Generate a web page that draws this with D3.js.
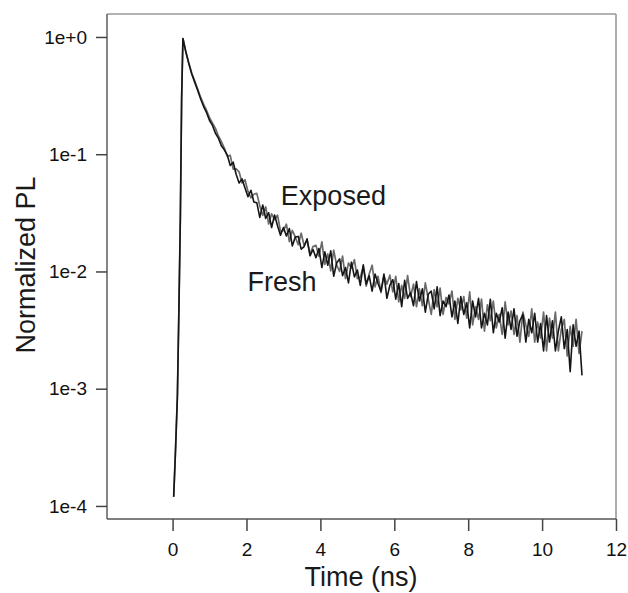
<!DOCTYPE html>
<html>
<head>
<meta charset="utf-8">
<script src="https://cdn.jsdelivr.net/npm/d3@7"></script>
<style>
  body { margin: 0; background: #fff; }
  text { font-family: "Liberation Sans", Arial, sans-serif; fill: #1a1a1a; }
  .axis path { display: none; }
  .axis line { stroke: #444; stroke-width: 1.5; }
</style>
</head>
<body>
<div id="decay_plot"></div>
<script>

// Rise of the pulse (ns, normalized PL)
var riseTime = [0.03, 0.08, 0.13, 0.17, 0.21, 0.245];
var riseFresh = [0.00012, 0.00030, 0.00085, 0.0045, 0.028, 0.30];
var riseExposed = [0.00012, 0.00031, 0.00088, 0.0047, 0.029, 0.31];

// Decay, sampled every 0.08 ns from the peak
var decayStart = 0.28;
var decayStep = 0.08;

var decayFresh = [
  0.97,0.74,0.59,0.48,0.41,0.35,0.296,0.255,0.226,0.194,
  0.176,0.151,0.137,0.118,0.109,0.0984,0.0802,0.0855,0.0674,0.0569,
  0.0616,0.0516,0.0434,0.0493,0.0391,0.0385,0.0289,0.0369,0.0283,0.0317,
  0.0237,0.0303,0.0245,0.0204,0.0237,0.0201,0.0232,0.0165,0.0197,0.0199,
  0.0155,0.0163,0.0190,0.0136,0.0154,0.0131,0.0157,0.0108,0.0147,0.0113,
  0.0150,0.0091,0.0118,0.0128,0.0092,0.0108,0.0080,0.0120,0.0090,0.0103,
  0.0076,0.0114,0.0078,0.0092,0.0068,0.0095,0.0079,0.0068,0.0095,0.0059,
  0.0076,0.0085,0.0058,0.0079,0.0050,0.0084,0.0059,0.0066,0.0051,0.0082,
  0.0056,0.0071,0.0045,0.0064,0.0068,0.0048,0.0074,0.0042,0.0056,0.0050,
  0.0063,0.0041,0.0056,0.0036,0.0061,0.0043,0.0054,0.0033,0.0056,0.0041,
  0.0059,0.0033,0.0044,0.0035,0.0058,0.0030,0.0044,0.0037,0.0049,0.0027,
  0.0045,0.0032,0.0048,0.0028,0.0038,0.0043,0.0025,0.0039,0.0030,0.0044,
  0.0025,0.0036,0.0021,0.0042,0.0025,0.0038,0.0021,0.0031,0.0041,0.0022,
  0.0032,0.0014,0.0035,0.0023,0.0031,0.0013
];

var decayExposed = [
  0.97,0.75,0.60,0.49,0.42,0.36,0.305,0.266,0.236,0.205,
  0.184,0.166,0.143,0.128,0.113,0.0961,0.0977,0.0746,0.0749,0.0708,
  0.0569,0.0606,0.0481,0.0425,0.0456,0.0463,0.0361,0.0301,0.0356,0.0254,
  0.0310,0.0277,0.0302,0.0221,0.0223,0.0253,0.0180,0.0224,0.0197,0.0169,
  0.0212,0.0166,0.0184,0.0141,0.0163,0.0167,0.0135,0.0179,0.0115,0.0141,
  0.0101,0.0152,0.0113,0.0100,0.0135,0.0087,0.0118,0.0107,0.0126,0.0087,
  0.0089,0.0110,0.0075,0.0095,0.0113,0.0074,0.0091,0.0066,0.0092,0.0078,
  0.0093,0.0067,0.0091,0.0055,0.0076,0.0059,0.0092,0.0061,0.0078,0.0050,
  0.0071,0.0051,0.0080,0.0058,0.0043,0.0070,0.0050,0.0072,0.0043,0.0060,
  0.0053,0.0068,0.0039,0.0059,0.0047,0.0061,0.0040,0.0067,0.0035,0.0050,
  0.0039,0.0058,0.0031,0.0052,0.0038,0.0056,0.0033,0.0043,0.0029,0.0055,
  0.0035,0.0046,0.0029,0.0042,0.0025,0.0045,0.0035,0.0028,0.0048,0.0025,
  0.0037,0.0027,0.0045,0.0021,0.0040,0.0027,0.0045,0.0021,0.0032,0.0039,
  0.0019,0.0034,0.0023,0.0039,0.0020,0.0031
];

// Axis ticks
var xTicks = [0, 2, 4, 6, 8, 10, 12];
var yTicks = [1, 0.1, 0.01, 0.001, 0.0001];
var yTickLabels = ["1e+0", "1e-1", "1e-2", "1e-3", "1e-4"];

// Curve labels
var labelText = ["Exposed", "Fresh"];
var labelTime = [2.93, 2.03];
var labelValue = [0.037, 0.0068];

// Build [t, value] rows
function buildSeries(rise, decay) {
  var rows = riseTime.map(function(t, i) { return [t, rise[i]]; });
  decay.forEach(function(v, i) { rows.push([decayStart + i * decayStep, v]); });
  return rows;
}
var fresh = buildSeries(riseFresh, decayFresh);
var exposed = buildSeries(riseExposed, decayExposed);

// Size
var width = 628, height = 593;
var plotLeft = 107, plotRight = 616, plotTop = 14, plotBottom = 519;

var xScale = d3.scaleLinear()
    .domain([-1.775, 12])
    .range([plotLeft, plotRight]);

var yScale = d3.scaleLog()
    .domain([7.74e-5, 1.57])
    .range([plotBottom, plotTop]);

var svg = d3.select("#decay_plot").append("svg")
    .attr("width", width)
    .attr("height", height);

// Frame
svg.append("line").attr("x1", plotLeft).attr("x2", plotRight).attr("y1", plotTop).attr("y2", plotTop)
    .attr("stroke", "#999").attr("stroke-width", 1.6);
svg.append("line").attr("x1", plotRight).attr("x2", plotRight).attr("y1", plotTop).attr("y2", plotBottom)
    .attr("stroke", "#999").attr("stroke-width", 1.6);
svg.append("line").attr("x1", plotLeft).attr("x2", plotLeft).attr("y1", plotTop).attr("y2", plotBottom)
    .attr("stroke", "#666").attr("stroke-width", 1.6);
svg.append("line").attr("x1", plotLeft).attr("x2", plotRight).attr("y1", plotBottom).attr("y2", plotBottom)
    .attr("stroke", "#555").attr("stroke-width", 1.6);

// Axes
var xAxis = svg.append("g")
    .attr("class", "x axis")
    .attr("transform", "translate(0," + plotBottom + ")")
    .call(d3.axisBottom(xScale).tickValues(xTicks).tickSize(12).tickPadding(12)
      .tickFormat(d3.format("d")));

var yAxis = svg.append("g")
    .attr("class", "y axis")
    .attr("transform", "translate(" + plotLeft + ",0)")
    .call(d3.axisLeft(yScale).tickValues(yTicks).tickSize(11).tickPadding(9)
      .tickFormat(function(d, i) { return yTickLabels[i]; }));

svg.selectAll(".axis text")
    .style("font-size", "19px")
    .style("font-family", "'Liberation Sans', Arial, sans-serif")
    .style("fill", "#111");

// Axis titles
svg.append("text")
    .attr("x", 361)
    .attr("y", 586)
    .style("text-anchor", "middle")
    .style("font-size", "27px")
    .text("Time (ns)");

svg.append("text")
    .attr("transform", "rotate(-90)")
    .attr("x", -265)
    .attr("y", 35)
    .style("text-anchor", "middle")
    .style("font-size", "27px")
    .text("Normalized PL");

// Curves
var line = d3.line()
    .x(function(d) { return xScale(d[0]); })
    .y(function(d) { return yScale(d[1]); });

svg.append("path")
    .datum(exposed)
    .attr("fill", "none")
    .attr("stroke", "#6a6a6a")
    .attr("stroke-width", 1.7)
    .attr("stroke-linejoin", "round")
    .attr("d", line);

svg.append("path")
    .datum(fresh)
    .attr("fill", "none")
    .attr("stroke", "#151515")
    .attr("stroke-width", 1.6)
    .attr("stroke-linejoin", "round")
    .attr("d", line);

// Labels
svg.selectAll(".curve_label")
    .data(labelText)
  .enter().append("text")
    .attr("class", "curve_label")
    .attr("x", function(d, i) { return xScale(labelTime[i]); })
    .attr("y", function(d, i) { return yScale(labelValue[i]); })
    .style("font-size", "27px")
    .text(function(d) { return d; });

</script>
</body>
</html>
